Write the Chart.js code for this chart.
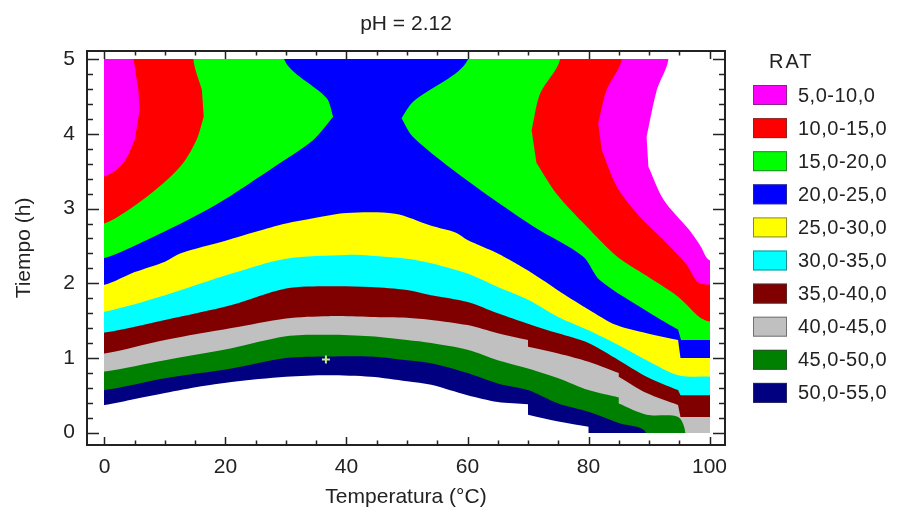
<!DOCTYPE html>
<html>
<head>
<meta charset="utf-8">
<script src="https://cdn.jsdelivr.net/npm/chart.js@4.4.1/dist/chart.umd.min.js"></script>
<style>
  html, body { margin: 0; padding: 0; background: #fff; }
  #wrap { width: 897px; height: 518px; position: relative; }
</style>
</head>
<body>
<div id="wrap"><canvas id="c"></canvas></div>
<script>
// contour levels of RAT, lowest first
const levels = ['5,0-10,0', '10,0-15,0', '15,0-20,0', '20,0-25,0', '25,0-30,0',
                '30,0-35,0', '35,0-40,0', '40,0-45,0', '45,0-50,0', '50,0-55,0'];
const colors = ['#ff00ff', '#ff0000', '#00ff00', '#0000ff', '#ffff00',
                '#00ffff', '#800000', '#c0c0c0', '#008000', '#000080'];

// contour lines [Temperatura, Tiempo] bounding the region RAT >= level,
// read off the plot; each line runs from one edge of the data area to another
const ge5 = [[[93.2,5],[91.3,4.59],[89.6,3.96],[89.9,3.56],[92.4,3.12],[96.7,2.71],
              [98.5,2.5],[100,2.31]]];
const ge10 = [[[0,3.43],[3.1,3.61],[5,3.92],[5.8,4.32],[5.6,4.59],[4.8,5]],
              [[85.5,5],[83,4.59],[81.6,4.14],[82.2,3.78],[84.7,3.29],[88.5,2.89],
               [92.9,2.54],[96.2,2.25],[98,2.02],[100,1.98]]];
const ge15 = [[[0,2.8],[7,3.16],[12.5,3.56],[15.2,3.92],[16.4,4.23],[16.1,4.59],[14.7,5]],
              [[75.3,5],[72,4.54],[70.6,4.05],[71.4,3.61],[74.7,3.2],[79.7,2.76],
               [84.7,2.36],[89.6,2.1],[94.8,1.82],[98.3,1.55],[100,1.49]]];
const ge20 = [[[0,2.34],[7,2.58],[18,3.03],[29,3.61],[34.5,3.92],[37.8,4.23],
               [36.7,4.48],[29.7,5]],
              [[60.1,5],[51,4.43],[49.1,4.21],[51,3.96],[59.9,3.38],[70.9,2.76],
               [79.1,2.36],[81.9,2.04],[90.2,1.6],[94.8,1.38],[95.3,1.24],[100,1.24]]];
const ge25 = [[[0,1.98],[5,2.15],[10,2.29],[12.5,2.4],[20,2.57],[25,2.69],[30,2.8],
               [34.5,2.87],[40,2.94],[48,2.93],[54,2.77],[58,2.68],[60,2.58],[65,2.4],
               [70,2.17],[76,1.85],[80,1.65],[84.6,1.44],[89.6,1.33],[94.8,1.24],
               [95.2,1.0],[100,1.0]]];
const ge30 = [[[0,1.62],[10,1.84],[21,2.13],[30,2.33],[40,2.38],[44,2.37],[50,2.33],
               [54,2.27],[60,2.13],[65,1.95],[70,1.78],[75,1.55],[80,1.37],[85,1.17],
               [89.6,0.97],[94.8,0.77],[100,0.75]]];
const ge35 = [[[0,1.34],[10,1.51],[21,1.71],[30,1.93],[37,1.96],[44,1.95],[50,1.91],
               [54,1.84],[60,1.75],[65,1.6],[70,1.46],[75,1.33],[80,1.2],[85,0.97],
               [89.6,0.75],[94.8,0.57],[95.2,0.5],[100,0.5]]];
const ge40 = [[[0,1.06],[10,1.24],[21,1.4],[30,1.53],[37,1.56],[44,1.55],[50,1.54],
               [54,1.51],[60,1.44],[65,1.33],[70,1.24],[70,1.15],[75,1.06],[80,0.95],
               [85,0.8],[85,0.75],[89.6,0.53],[94.8,0.37],[95.2,0.21],[100,0.21]]];
const ge45 = [[[0,0.82],[10,0.97],[21,1.13],[30,1.29],[37,1.31],[44,1.29],[50,1.24],
               [54,1.2],[60,1.11],[65,0.97],[70,0.86],[75,0.73],[80,0.57],[85,0.47],
               [85,0.39],[89.6,0.24],[94.8,0.21],[96,0]]];
const ge50 = [[[0,0.57],[10,0.73],[21,0.86],[30,1.0],[37,1.02],[44,1.02],[50,0.97],
               [54,0.93],[60,0.8],[65,0.66],[70,0.57],[75,0.39],[80,0.28],[85,0.13],
               [89.5,0]]];
const ge55 = [[[0,0.37],[5,0.45],[10,0.53],[16,0.62],[21,0.68],[30,0.75],[37,0.77],
               [44,0.75],[50,0.69],[54,0.64],[60,0.5],[65,0.41],[70,0.38],[70,0.24],
               [75,0.15],[80,0.08],[80,0]]];
const regions = [ge5, ge10, ge15, ge20, ge25, ge30, ge35, ge40, ge45, ge50, ge55];

// pointed tips of the 15-20 lobes where they meet the 20-25 band
const tips = [[37.8,4.23], [49.1,4.21]];

// design point
const marker = [[36.6, 0.98]];

const xTicks = [0, 20, 40, 60, 80, 100];
const yTicks = [0, 1, 2, 3, 4, 5];

const FONT = "'Liberation Sans', Arial, sans-serif";
const INK = '#222';

// push a contour end just outside the 0-100 x 0-5 data area
function outward([x, y]) {
  if (x <= 0) return [-4, y];
  if (x >= 100) return [104, y];
  if (y >= 5) return [x, 6];
  return [x, -1];
}

// doubling a point gives the smoothed line a sharp corner there
// (used for the grid steps and the two tips)
function sharpen(line) {
  const isStep = (p, q) => q && Math.abs(q[0] - p[0]) < 1 && Math.abs(q[1] - p[1]) > 0.05;
  const out = [];
  line.forEach((p, i) => {
    out.push(p);
    const tip = tips.some(t => t[0] === p[0] && t[1] === p[1]);
    if (tip || isStep(p, line[i - 1]) || isStep(p, line[i + 1])) out.push(p);
  });
  return out;
}

// close the contour lines round the outside of the data area (clipped later)
function polygon(lines) {
  const pts = [];
  lines.forEach(l => {
    pts.push(outward(l[0]), ...sharpen(l), outward(l[l.length - 1]));
  });
  pts.push([104, -1], [-4, -1]);
  if (pts[0][1] >= 6) pts.push([-4, 6]);
  return pts.map(([x, y]) => ({x, y}));
}

const datasets = regions.map((lines, i) => ({
  label: i < levels.length ? levels[i] : '>55',
  data: polygon(lines),
  showLine: true,
  fill: 'shape',
  backgroundColor: i < colors.length ? colors[i] : '#ffffff',
  borderColor: 'rgba(0,0,0,0)',
  borderWidth: 0,
  pointRadius: 0,
  tension: 0.3,
  order: 100 - i
}));
datasets.push({
  label: 'punto',
  data: marker.map(([x, y]) => ({x, y})),
  pointStyle: 'cross',
  pointRadius: 4,
  borderColor: '#c4ec80',
  borderWidth: 2,
  order: 0
});

// keep the coloured surface inside the sampled 0-100 x 0-5 range
const clipPlugin = {
  id: 'dataClip',
  beforeDatasetsDraw(chart) {
    const {ctx, scales: {x, y}} = chart;
    const l = Math.round(x.getPixelForValue(0)), r = Math.round(x.getPixelForValue(100));
    const t = Math.round(y.getPixelForValue(5)), b = Math.round(y.getPixelForValue(0));
    ctx.save();
    ctx.beginPath();
    ctx.rect(l, t, r - l, b - t);
    ctx.clip();
  },
  afterDatasetsDraw(chart) {
    chart.ctx.restore();
  }
};

// frame with inward ticks on all four sides
const framePlugin = {
  id: 'frame',
  afterDatasetsDraw(chart) {
    const {ctx, chartArea: a, scales: {x, y}} = chart;
    ctx.save();
    ctx.strokeStyle = INK;
    ctx.lineWidth = 1.5;
    ctx.beginPath();
    for (let v = 0; v <= 100.001; v += 5) {
      const px = Math.round(x.getPixelForValue(v)) + 0.5;
      const len = v % 20 === 0 ? 8 : 4.5;
      ctx.moveTo(px, a.bottom); ctx.lineTo(px, a.bottom - len);
      ctx.moveTo(px, a.top); ctx.lineTo(px, a.top + len);
    }
    for (let k = 0; k <= 25; k++) {
      const py = Math.round(y.getPixelForValue(k * 0.2)) + 0.5;
      const len = k % 5 === 0 ? 12 : 6;
      ctx.moveTo(a.left, py); ctx.lineTo(a.left + len, py);
      ctx.moveTo(a.right, py); ctx.lineTo(a.right - len, py);
    }
    ctx.stroke();
    ctx.lineWidth = 2;
    ctx.strokeRect(a.left, a.top, a.right - a.left, a.bottom - a.top);
    ctx.restore();
  }
};

const legendPlugin = {
  id: 'ratLegend',
  afterDraw(chart) {
    const {ctx} = chart;
    ctx.save();
    ctx.fillStyle = INK;
    ctx.textBaseline = 'middle';
    ctx.font = '20px ' + FONT;
    ctx.letterSpacing = '2px';
    ctx.fillText('RAT', 769, 62);
    ctx.letterSpacing = '0.5px';
    levels.forEach((lab, i) => {
      const top = 85 + i * 33.1;
      ctx.fillStyle = colors[i];
      ctx.fillRect(753, top, 34, 20);
      ctx.strokeStyle = 'rgba(60,60,60,0.6)';
      ctx.lineWidth = 1;
      ctx.strokeRect(753.5, top + 0.5, 33, 19);
      ctx.fillStyle = INK;
      ctx.fillText(lab, 798, top + 11);
    });
    ctx.restore();
  }
};

new Chart(document.getElementById('c'), {
  type: 'scatter',
  data: { datasets },
  options: {
    responsive: true,
    maintainAspectRatio: false,
    animation: false,
    events: [],
    layout: { padding: { top: 0, right: 172, bottom: 0, left: 0 } },
    plugins: {
      legend: { display: false },
      tooltip: { enabled: false },
      title: {
        display: true,
        text: 'pH = 2.12',
        fullSize: false,
        color: INK,
        font: { family: FONT, size: 21, weight: 'normal' },
        padding: { top: 12, bottom: 13.8 }
      }
    },
    scales: {
      x: {
        type: 'linear',
        min: -2.89,
        max: 102.56,
        afterBuildTicks: s => { s.ticks = xTicks.map(v => ({value: v})); },
        afterFit: s => { s.height = 73; },
        grid: { display: false, drawTicks: false },
        border: { display: false },
        ticks: { color: INK, padding: 10, font: { family: FONT, size: 21 } },
        title: {
          display: true,
          text: 'Temperatura (°C)',
          color: INK,
          font: { family: FONT, size: 21 },
          padding: { top: 0, bottom: 8 }
        }
      },
      y: {
        type: 'linear',
        min: -0.165,
        max: 5.11,
        afterBuildTicks: s => { s.ticks = yTicks.map(v => ({value: v})); },
        afterFit: s => { s.width = 87; },
        grid: { display: false, drawTicks: false },
        border: { display: false },
        ticks: { color: INK, padding: 12, font: { family: FONT, size: 21 } },
        title: {
          display: true,
          text: 'Tiempo (h)',
          color: INK,
          font: { family: FONT, size: 21 },
          padding: { top: 12, bottom: 0 }
        }
      }
    }
  },
  plugins: [clipPlugin, framePlugin, legendPlugin]
});
</script>
</body>
</html>
